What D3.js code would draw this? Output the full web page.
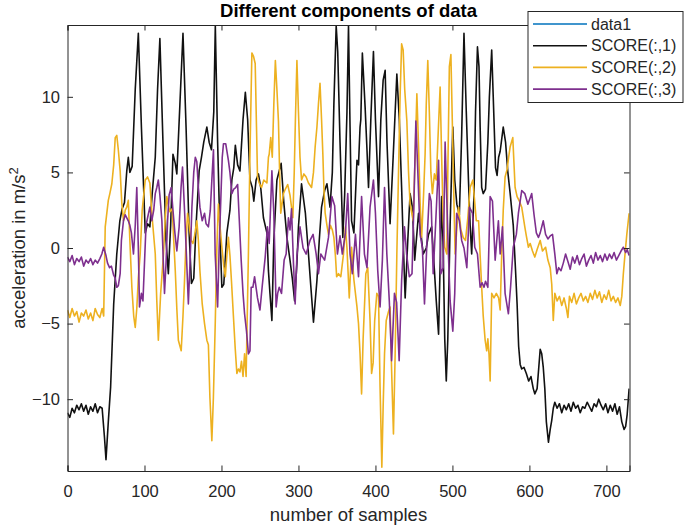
<!DOCTYPE html>
<html><head><meta charset="utf-8">
<script src="https://cdn.jsdelivr.net/npm/d3@7"></script>
<style>body{margin:0;background:#fff}svg{display:block}text{font-family:"Liberation Sans",Arial,sans-serif;fill:#262626}</style>
</head><body><svg id="c" width="685" height="529"></svg>
<script>
const xTicks=[0,100,200,300,400,500,600,700];
const yTicks=[-10,-5,0,5,10];
const legendLabels=["data1","SCORE(:,1)","SCORE(:,2)","SCORE(:,3)"];
const seriesColors=["#0072BD","#111111","#EDB120","#7E2F8E"];

const score1X=[0,3,6,9,12,15,18,21,24,27,30,33,36,39,42,45,48,50,53,56,60,64,68,71,74,77,79,81,84,88,92,96,101,104,107,110,114,117,120,124,128,131,134,137,140,142,146,150,154,158,161,164,167,171,174,177,181,184,187,190,192,195,198,200.5,203,207,211,213.5,216,218,221,224,228,231,234,237,240,242,245,248,251,254.5,259,261,263,265.5,268,272,277.5,281,285,289,292,295,298,300,304,309,313,316,319.5,324,327,330,334,337,341,344,346,349,351,354,357.6,360,363,365,367,369,372,376,378,380,381,383,386.6,389,391,394,397.4,400,404,407,410,412.6,415,419,423,427.8,431,434,436,438.6,442,445,448,451,456,459,462,466,469,473,476,479,482,486,488,490,492,494,497,500.5,503,505.7,509,512,515,518,520.8,523,525,528,530,532.5,534.5,536,538,540,543,546,548,551,553,556,558,560,562,566,569,572,575,579,582,584,586,588,590,593,596,599,602,605,607,610,612,614,616,618,620,622,624.7,627,629,631,633,636,639,642,645,648,651,654,657,660,663,666,669,672,675,678,681,684,687,690,693,696,699,702,705,708,711,714,717,720,723,725,727,729.5];
const score1Y=[-10.9,-11.2,-10.6,-10.9,-10.4,-10.7,-10.3,-10.8,-10.4,-11.0,-10.5,-10.8,-10.3,-10.9,-10.5,-10.6,-12.5,-14.0,-11.5,-9.2,-3.7,-0.4,1.8,2.6,3.0,5.1,6.0,5.0,5.4,10.5,14.2,8.0,1.0,1.6,1.4,3.6,6.0,10.5,13.85,7.0,0.5,-1.7,1.5,6.2,5.6,4.9,9.5,14.2,8.0,1.0,-2.35,-2.0,1.5,5.1,6.0,7.0,8.0,7.0,6.5,9.0,14.7,7.0,1.0,-2.6,-2.4,1.0,2.5,4.5,5.3,6.8,5.5,5.1,8.5,10.3,8.5,4.5,4.0,3.1,4.5,4.9,4.0,2.0,1.0,-1.5,-3.0,-4.8,0.5,4.5,5.6,3.0,0.7,-0.8,-2.0,-3.5,-1.0,1.4,4.25,2.3,-0.4,-2.5,-4.9,-2.15,0.5,2.7,3.8,4.25,2.7,5.0,9.5,14.7,13.0,7.0,0.7,3.5,9.0,14.7,8.0,1.8,1.0,5.8,5.5,8.0,8.5,12.9,9.3,6.5,4.0,8.5,13.0,8.5,3.4,8.5,11.1,11.75,7.0,1.6,6.0,11.5,8.5,4.0,0.5,-3.3,0.5,3.6,2.7,-0.8,2.3,1.0,-0.4,0.0,0.9,1.4,-1.0,-3.5,-5.7,3.4,0.0,-6.0,-8.8,-6.0,1.5,8.0,4.5,2.9,2.2,7.5,14.2,9.0,4.5,1.5,-0.4,3.5,9.0,13.3,12.0,8.0,4.0,3.6,3.9,7.0,10.0,13.1,10.0,5.3,4.8,6.0,6.4,8.0,7.0,5.0,3.6,1.5,-1.5,-3.7,-6.5,-7.7,-8.0,-7.9,-8.3,-8.8,-8.5,-9.3,-9.65,-9.3,-8.0,-6.7,-7.0,-7.9,-9.3,-11.5,-12.85,-12.0,-11.4,-10.6,-10.2,-10.6,-10.3,-10.9,-10.4,-10.7,-10.3,-10.8,-10.2,-10.6,-10.4,-10.9,-10.5,-10.6,-10.2,-10.5,-10.8,-10.3,-10.5,-10.0,-10.4,-10.7,-10.3,-10.9,-10.4,-10.8,-10.3,-11.0,-10.5,-11.5,-12.0,-11.8,-11.0,-9.3];

const score2X=[0,3,6,9,12,15,18,21,24,27,30,33,36,39,42,45,47,49,53,55,57.6,60,62,64,66,68.4,70.5,72.7,75,77,79,81,83.6,86,88,90,92,94.4,97,101,104,107,110,114,116,118,121,124.7,127,129,131,133,136,138,140,142,144,147.7,150,152,154,156,158,160.6,163,165,168,170,172,175,178,181,183,185,187.5,189.5,192,194,196,198,200.5,203,205,207,209,211,213,215.5,217.8,220,222,224,226,228,230,232,235,237,239.5,241.5,243.8,245.5,246.8,249,252,255,259,261,262,264,266,268,270,272,274,276,277,280.5,283,286,289,292.7,294.5,296,298,300,302,304,307,310,313,317,319.5,321.7,324,326,328,330,331.7,333,334.7,337,339,341.5,344,346,348,349.6,352,355,358.5,361,363,366,369,372,376,378,380,382,384,387.5,390,393,395,397,399,401.8,404,406,408.3,410,411.8,414,417,419,421,423.4,425.6,427.8,430,432,434,436,438,440.8,443,445,449,451.5,453.8,456,458,460,462.5,464.5,466,468,470,472,474,476.6,479,481,484,486,488,490,492.7,494,496,498,500,502,503.5,506,508,511,514,517,520,523,526.5,529,531,534,536,538,540,542.5,544.5,546,547.5,549,551,554,557,560,562,564,566,568.4,571,573,575,578.4,581.4,584,587,590,594,596,598.7,601,604,607,610,614,617,621,624,627,629,631,633,636,639,642,645,648,650,652,655,658,661,664,667,670,673,676,679,682,685,688,691,694,697,700,703,706,709,712,715,718,720,722,724,726.5,729.5];
const score2Y=[-4.1,-4.6,-4.0,-4.5,-4.2,-4.9,-4.3,-4.5,-4.1,-4.7,-4.3,-4.8,-4.0,-4.4,-4.6,-4.0,-4.5,1.4,3.15,3.6,4.25,5.5,7.3,7.45,6.5,5.1,3.0,1.8,2.5,2.7,3.15,0.5,-2.6,-4.5,-5.25,-4.0,-2.0,-0.4,2.5,4.5,4.7,4.3,2.0,-0.4,-3.5,-6.1,-3.0,-0.4,2.0,3.4,2.8,2.4,2.6,0.5,-1.5,-4.0,-6.1,-6.8,-4.5,-2.15,0.5,2.3,1.5,0.5,0.3,0.8,1.8,0.5,-1.5,-3.7,-5.0,-6.1,-6.4,-9.9,-12.75,-9.9,-4.8,0.0,2.9,1.5,0.05,-1.2,-1.9,-0.5,0.7,-0.5,-2.2,-4.5,-6.6,-8.3,-8.0,-8.2,-7.5,-8.5,-7.0,-8.5,-0.4,6.2,12.9,12.7,12.2,8.0,4.7,4.3,4.0,4.5,4.3,6.0,6.2,7.3,6.0,9.5,12.4,10.5,8.4,4.0,2.3,3.6,3.9,4.2,3.5,2.0,5.0,8.4,12.4,9.0,6.0,4.5,4.9,4.7,4.3,4.0,5.0,6.7,8.0,9.55,10.9,8.5,6.2,4.0,2.3,1.5,0.9,1.5,1.2,0.7,-0.5,-1.9,-1.7,-1.9,-0.4,1.4,0.0,-3.3,0.05,-2.1,-3.9,-5.0,-7.0,-9.65,-6.0,-1.7,-1.3,-4.8,-8.3,-7.6,-4.8,-3.0,-3.2,-9.2,-14.5,-10.5,-7.0,-4.8,-4.2,-3.9,-8.1,-12.3,-7.0,-0.4,5.1,10.0,13.5,13.1,10.5,8.4,5.0,2.9,1.8,6.0,10.2,6.7,3.0,0.7,3.5,6.2,9.5,12.4,9.0,5.0,3.6,4.9,4.5,7.0,10.65,6.0,1.8,0.05,-0.4,5.0,12.0,12.8,8.0,3.0,-0.4,1.5,2.7,1.2,0.7,0.5,2.0,4.0,4.5,3.0,1.8,1.8,-0.5,-2.6,-4.5,-6.1,-6.8,-6.0,-7.0,-8.8,-3.0,-3.3,-3.0,-3.3,-4.1,-0.4,2.5,4.7,5.2,6.0,6.7,7.3,4.0,3.4,3.1,2.7,1.4,0.8,0.05,0.3,-0.2,-0.6,-0.1,0.5,-0.2,0.05,-0.8,-1.3,-2.4,-4.8,-3.0,-3.5,-3.2,-3.8,-3.3,-4.0,-4.6,-3.2,-3.6,-3.0,-3.7,-3.3,-3.0,-3.5,-3.2,-3.6,-3.0,-3.4,-2.8,-3.3,-2.9,-3.6,-3.1,-3.4,-2.8,-3.5,-3.2,-3.6,-3.3,-3.8,-3.2,-1.7,-0.5,0.9,2.3];

const score3X=[0,3,6,9,12,15,18,21,24,27,30,33,36,39,42,44.6,47,50,52,54.6,57,60,62,64,66,68.4,70,72.7,75,77,79,81,83,85.7,88,90,92,93.5,96,98,100,102,104,107,109.5,112,114,116,118,120,122.6,124.5,126,128,130,132,134.7,137,139.5,142,145,147.5,149.4,152,154.5,157,159.5,161.6,164,166,168,170,172,175,178,180,183,185.5,187.5,189.6,191.8,195,197,199,201,202.6,205.5,209,211,213.5,216,218.5,221,223,225.6,228,230,232.5,235,237,238.6,240.8,243,246.8,250,253,256.8,259.7,262,264,265.5,268,271,273,275,278,281.4,284,287,289,291,293.5,295.7,298,302,306,310,315,319,323,326,329,334,339,343.4,347,350.6,354,357,361,364,367,370,374,378,382,385.7,389,393,397.4,400,403,406,409,411.8,414.8,418,421,424.7,427.5,430.8,434,437.7,440.5,444,447.5,450,452.5,455,458,461,463.7,466.6,470,472.3,475,478,482,485,488,490.5,494.8,497,500.5,503,505.5,509,512,515,518.7,522,526,529,532.5,536,538.5,541,543,546,549,552,555.5,559.7,562,565,568.4,572.7,575.5,579,583,585.7,590,594,598,603,606,609,611.7,614,618,621,624,627,630,633,635.6,638,641,644,647,650,653,656,659,662,665,668,671,674,677,680,683,686,689,692,695,698,701,704,707,710,713,716,719,722,725,727,729.5];
const score3Y=[-0.6,-0.9,-0.5,-1.1,-0.7,-0.9,-0.6,-1.2,-0.8,-1.0,-0.7,-1.1,-0.8,-1.0,-0.7,-0.4,0.05,-0.5,-1.0,-1.3,-1.2,-1.8,-2.0,-2.6,-2.5,-1.7,0.5,1.8,2.2,2.0,1.8,1.5,1.0,-0.4,1.5,4.0,0.0,-3.9,-3.0,-3.5,-1.0,1.5,2.0,2.7,1.8,2.5,3.6,4.0,4.5,3.5,1.8,-1.0,-3.0,-1.0,1.8,3.5,4.0,2.5,1.0,-0.2,1.4,4.0,5.35,2.5,-0.5,-3.7,-0.5,2.7,5.0,6.0,5.7,4.0,2.7,1.8,2.3,1.6,1.4,2.5,4.5,6.5,-0.4,-3.9,0.0,3.0,6.0,6.9,6.9,5.8,5.0,3.6,3.9,4.0,4.2,2.0,-0.8,-3.0,-4.35,-5.5,-7.0,-6.8,-2.6,-2.6,-1.9,-3.3,-4.1,-2.5,-0.6,1.4,0.3,3.0,5.1,2.3,-3.9,-3.0,-2.6,-3.0,-0.8,-0.4,2.0,1.2,2.6,-1.0,-3.7,-0.5,1.4,0.0,-0.4,0.5,0.9,-0.4,-1.7,-0.4,-0.8,0.7,3.4,2.8,-0.4,0.8,-0.4,1.0,3.6,-0.4,-1.7,0.9,-1.9,3.4,-0.4,-1.3,2.7,4.5,2.3,-1.5,-3.9,-0.8,4.0,-0.4,-3.5,-7.45,-3.0,-3.6,-7.45,-2.15,1.4,-0.4,-1.9,-1.7,3.0,8.4,5.1,0.9,0.0,-3.7,0.05,3.6,3.1,-1.7,1.4,5.8,-1.7,-1.3,7.0,-0.4,-3.5,-5.5,-3.0,2.3,1.8,0.5,0.0,-1.3,2.7,2.3,0.05,-0.4,-2.6,-2.3,-2.6,-2.2,-2.6,3.4,3.1,-0.8,1.8,-0.4,1.4,-3.0,-4.35,-2.6,0.05,0.9,2.3,3.8,3.6,2.9,3.6,2.2,1.0,0.7,1.0,1.8,0.9,0.6,0.8,0.9,-0.4,-1.7,-1.3,-1.5,-1.0,-0.4,-0.9,-1.4,-0.6,-1.0,-0.5,-1.1,-0.7,-0.4,-1.2,-0.8,-0.5,-1.0,-0.3,-0.8,-0.5,-0.9,-0.4,-0.8,-0.4,-0.7,-0.3,-0.8,-0.5,-0.2,0.05,-0.3,-0.1,-0.5];

const L=67.5,R=629.5,T=25,B=471;
const svg=d3.select("#c");
const x=d3.scaleLinear().domain([0,730]).range([L,R]);
const y=d3.scaleLinear().domain([-14.75,14.75]).range([B,T]);
const axisCol="#262626";

svg.append("rect").attr("x",L).attr("y",T).attr("width",R-L).attr("height",B-T).attr("fill","#fff");
svg.append("clipPath").attr("id","pc").append("rect").attr("x",L).attr("y",T).attr("width",R-L).attr("height",B-T);
const g=svg.append("g").attr("clip-path","url(#pc)");
const line=d3.line().x(d=>x(d[0])).y(d=>y(d[1]));
const series=[[score1X,score1Y],[score2X,score2Y],[score3X,score3Y]];
series.forEach((s,i)=>{
  const pts=s[0].map((v,k)=>[v,s[1][k]]);
  g.append("path").datum(pts).attr("d",line).attr("fill","none")
   .attr("stroke",seriesColors[i+1]).attr("stroke-width",1.6).attr("stroke-linejoin","round");
});

const tl=5.5, fs="16.5px";
const xb=svg.append("g").attr("transform",`translate(0,${B})`).call(d3.axisBottom(x).tickValues(xTicks).tickSize(-tl).tickPadding(14.5).tickFormat(d3.format("d")));
const xt=svg.append("g").attr("transform",`translate(0,${T})`).call(d3.axisTop(x).tickValues(xTicks).tickSize(-tl).tickFormat(""));
const yl=svg.append("g").attr("transform",`translate(${L},0)`).call(d3.axisLeft(y).tickValues(yTicks).tickSize(-tl).tickPadding(7.5).tickFormat(d3.format("d")));
const yr=svg.append("g").attr("transform",`translate(${R},0)`).call(d3.axisRight(y).tickValues(yTicks).tickSize(-tl).tickFormat(""));
[xb,xt,yl,yr].forEach(a=>{
  a.select(".domain").attr("stroke",axisCol).attr("stroke-width",1);
  a.selectAll(".tick line").attr("stroke",axisCol).attr("stroke-width",1);
  a.selectAll("text").attr("fill",axisCol).style("font-size",fs).style("font-family","Liberation Sans, Arial, sans-serif");
});
xb.selectAll("text").attr("dy","0.71em");

svg.append("text").attr("x",(L+R)/2).attr("y",17).attr("text-anchor","middle")
  .style("font-size","18.5px").style("font-weight","bold").style("fill","#000").text("Different components of data");
svg.append("text").attr("x",(L+R)/2).attr("y",521).attr("text-anchor","middle")
  .style("font-size","18.5px").text("number of samples");
const ylab=svg.append("text").attr("transform",`translate(25,${(T+B)/2}) rotate(-90)`).attr("text-anchor","middle").style("font-size","18.5px");
ylab.append("tspan").text("acceleration in m/s");
ylab.append("tspan").attr("dy","-0.55em").style("font-size","13px").text("2");

const lg=svg.append("g");
lg.append("rect").attr("x",528).attr("y",11.5).attr("width",155).attr("height",91).attr("fill","#fff").attr("stroke",axisCol).attr("stroke-width",1);
legendLabels.forEach((lab,i)=>{
  const cy=24+i*21.7;
  lg.append("line").attr("x1",533).attr("x2",587).attr("y1",cy).attr("y2",cy).attr("stroke",seriesColors[i]).attr("stroke-width",1.6);
  lg.append("text").attr("x",591).attr("y",cy).attr("dy","0.36em").style("font-size","16px").attr("fill","#000").text(lab);
});
</script></body></html>
